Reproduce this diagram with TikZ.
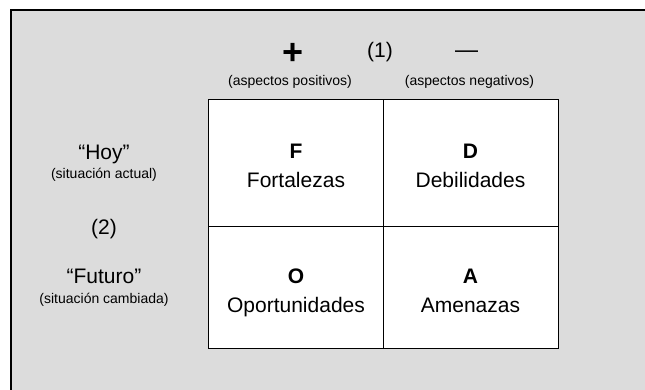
\documentclass[tikz,border=0pt]{standalone}
\usepackage{fontspec}
\setmainfont{Liberation Sans}
\definecolor{fondo}{RGB}{220,220,220}
\tikzset{
  grande/.style={anchor=base, inner sep=0pt, font=\fontsize{21}{25}\selectfont},
  letra/.style={anchor=base, inner sep=0pt, font=\fontsize{21}{25}\selectfont\bfseries},
  chico/.style={anchor=base, inner sep=0pt, font=\fontsize{14}{17}\selectfont},
}
\begin{document}
\begin{tikzpicture}[x=1pt,y=1pt]
% Fix the size of the picture
\useasboundingbox (0,0) rectangle (645,390);

% Draw the gray frame
\fill[fondo] (11,0) rectangle (645,380);
\draw[line width=1.2pt] (11,0) -- (11,380) -- (645,380);

% Define the corners of the matrix
\coordinate (NW) at (208,290.7);
\coordinate (SE) at (558,42);
\coordinate (N) at (383.3,290.7);
\coordinate (S) at (383.3,42);
\coordinate (W) at (208,163.3);
\coordinate (E) at (558,163.3);

% Draw the matrix
\fill[white] (NW) rectangle (SE);
\draw[line width=0.9pt] (NW) rectangle (SE);
\draw[line width=0.9pt] (N) -- (S);
\draw[line width=0.9pt] (W) -- (E);

% Draw the cell texts
\foreach \x/\y/\letter/\word/\name in {296/231.7/F/Fortalezas/fort, 470.5/231.7/D/Debilidades/deb,
    296/106.7/O/Oportunidades/opor, 470.5/106.7/A/Amenazas/amen}{
  \node[letra] (\name) at (\x,\y) {\letter};
  \node[grande] (\name-txt) at (\x,\y-29.7) {\word};
}

% Draw the column headers
\node[anchor=center, inner sep=0pt, font=\fontsize{36}{40}\selectfont\bfseries] (mas) at (293,336) {+};
\node[grande] (uno) at (380,332.6) {(1)};
\node[anchor=base, inner sep=0pt, font=\fontsize{23}{27}\selectfont] (menos) at (466.5,332.6) {—};
\node[chico] (pos) at (290,304.7) {(aspectos positivos)};
\node[chico] (neg) at (469.5,304.7) {(aspectos negativos)};

% Draw the row headers
\node[grande] (hoy) at (104,230.7) {“Hoy”};
\node[chico] (actual) at (104,211.5) {(situación actual)};
\node[grande] (dos) at (104,155.5) {(2)};
\node[grande] (futuro) at (104,106.7) {“Futuro”};
\node[chico] (cambiada) at (104,86.4) {(situación cambiada)};
\end{tikzpicture}
\end{document}
